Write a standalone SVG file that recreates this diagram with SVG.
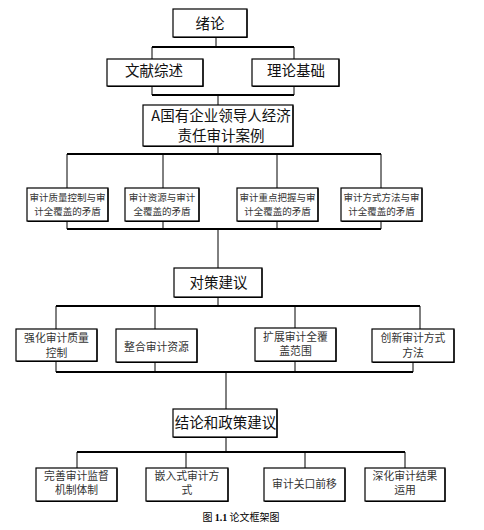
<svg xmlns="http://www.w3.org/2000/svg" width="484" height="530" viewBox="0 0 484 530">
<style>
.box{fill:#fff;stroke:#000;stroke-width:1.2}
.sh{fill:none;stroke:#000;stroke-width:1.2}
.h{stroke:#000;stroke-width:2;fill:none}
.v{stroke:#000;stroke-width:1;fill:none}
text{font-family:"Noto Sans CJK SC","Noto Sans",sans-serif;text-anchor:middle;fill:#111}
.t15{font-size:14.5px}
.t9{font-size:9.5px;fill:#333}
.t10{font-size:10.8px;fill:#333}
.cap{font-size:10px;fill:#000}
</style>
<rect width="484" height="530" fill="#fff"/>
<g id="connectors">
<path class="v" d="M216 37V47M152 47V59M294 47V59M152 86V95M294 86V95M218 95V105"/>
<path class="h" d="M152 47H294M152 95H294"/>
<path class="v" d="M218 146V154M67 154V188M163 154V188M277 154V188M381 154V188M67 221V229M163 221V229M277 221V229M381 221V229M218 229V268"/>
<path class="h" d="M67 154H381M67 229H381"/>
<path class="v" d="M218 297V306M56 306V329M155 306V329M295 306V329M420 306V329M56 361V372M155 362V372M295 361V372M413 362V372M226 372V409"/>
<path class="h" d="M56 306H420M56 372H413"/>
<path class="v" d="M226 437V452M77 452V468M186 452V468M305 452V468M405 452V468"/>
<path class="h" d="M77 452H405"/>
</g>
<g id="n1"><rect class="box" x="173" y="9" width="74" height="28"/><path class="sh" d="M247 9.5V37.5H173.5"/><text class="t15" x="210" y="28.5">绪论</text></g>
<g id="n2"><rect class="box" x="107" y="59" width="96" height="27"/><path class="sh" d="M203 59.5V86.5H107.5"/><text class="t15" x="154" y="75.5">文献综述</text></g>
<g id="n3"><rect class="box" x="252" y="59" width="87" height="27"/><path class="sh" d="M339 59.5V86.5H252.5"/><text class="t15" x="296" y="75.5">理论基础</text></g>
<g id="n4"><rect class="box" x="143" y="105" width="150" height="41"/><path class="sh" d="M293 105.5V146.5H143.5"/><text class="t15" x="221" y="120.5">A国有企业领导人经济</text><text class="t15" x="221" y="140.5">责任审计案例</text></g>
<g id="n5"><rect class="box" x="27" y="188" width="81" height="33"/><path class="sh" d="M108 188.5V221.5H27.5"/><text class="t9" x="67.5" y="200.5">审计质量控制与审</text><text class="t9" x="67.5" y="214.5">计全覆盖的矛盾</text></g>
<g id="n6"><rect class="box" x="125" y="188" width="74" height="33"/><path class="sh" d="M199 188.5V221.5H125.5"/><text class="t9" x="162" y="200.5">审计资源与审计</text><text class="t9" x="162" y="214.5">全覆盖的矛盾</text></g>
<g id="n7"><rect class="box" x="237" y="188" width="81" height="33"/><path class="sh" d="M318 188.5V221.5H237.5"/><text class="t9" x="277.5" y="200.5">审计重点把握与审</text><text class="t9" x="277.5" y="214.5">计全覆盖的矛盾</text></g>
<g id="n8"><rect class="box" x="341" y="188" width="81" height="33"/><path class="sh" d="M422 188.5V221.5H341.5"/><text class="t9" x="381.5" y="200.5">审计方式方法与审</text><text class="t9" x="381.5" y="214.5">计全覆盖的矛盾</text></g>
<g id="n9"><rect class="box" x="174" y="268" width="88" height="29"/><path class="sh" d="M262 268.5V297.5H174.5"/><text class="t15" x="218.5" y="287.5">对策建议</text></g>
<g id="n10"><rect class="box" x="16" y="329" width="81" height="32"/><path class="sh" d="M97 329.5V361.5H16.5"/><text class="t10" x="56.5" y="342">强化审计质量</text><text class="t10" x="56.5" y="356.5">控制</text></g>
<g id="n11"><rect class="box" x="116" y="329" width="81" height="33"/><path class="sh" d="M197 329.5V362.5H116.5"/><text class="t10" x="156.5" y="351">整合审计资源</text></g>
<g id="n12"><rect class="box" x="255" y="328" width="81" height="33"/><path class="sh" d="M336 328.5V361.5H255.5"/><text class="t10" x="295.5" y="340.5">扩展审计全覆</text><text class="t10" x="295.5" y="355">盖范围</text></g>
<g id="n13"><rect class="box" x="372" y="329" width="82" height="33"/><path class="sh" d="M454 329.5V362.5H372.5"/><text class="t10" x="413" y="342">创新审计方式</text><text class="t10" x="413" y="356.5">方法</text></g>
<g id="n14"><rect class="box" x="173" y="409" width="104" height="28"/><path class="sh" d="M277 409.5V437.5H173.5"/><text class="t15" x="225.5" y="427.5">结论和政策建议</text></g>
<g id="n15"><rect class="box" x="36" y="468" width="81" height="33"/><path class="sh" d="M117 468.5V501.5H36.5"/><text class="t10" x="76.5" y="479.5">完善审计监督</text><text class="t10" x="76.5" y="494">机制体制</text></g>
<g id="n16"><rect class="box" x="146" y="468" width="82" height="33"/><path class="sh" d="M228 468.5V501.5H146.5"/><text class="t10" x="187" y="479.5">嵌入式审计方</text><text class="t10" x="187" y="494">式</text></g>
<g id="n17"><rect class="box" x="264" y="468" width="81" height="33"/><path class="sh" d="M345 468.5V501.5H264.5"/><text class="t10" x="304.5" y="488">审计关口前移</text></g>
<g id="n18"><rect class="box" x="365" y="468" width="80" height="33"/><path class="sh" d="M445 468.5V501.5H365.5"/><text class="t10" x="405" y="479.5">深化审计结果</text><text class="t10" x="405" y="494">运用</text></g>
<text class="cap" x="241" y="521">图 <tspan font-weight="bold" font-family="Liberation Serif, serif">1.1</tspan> 论文框架图</text>
</svg>
